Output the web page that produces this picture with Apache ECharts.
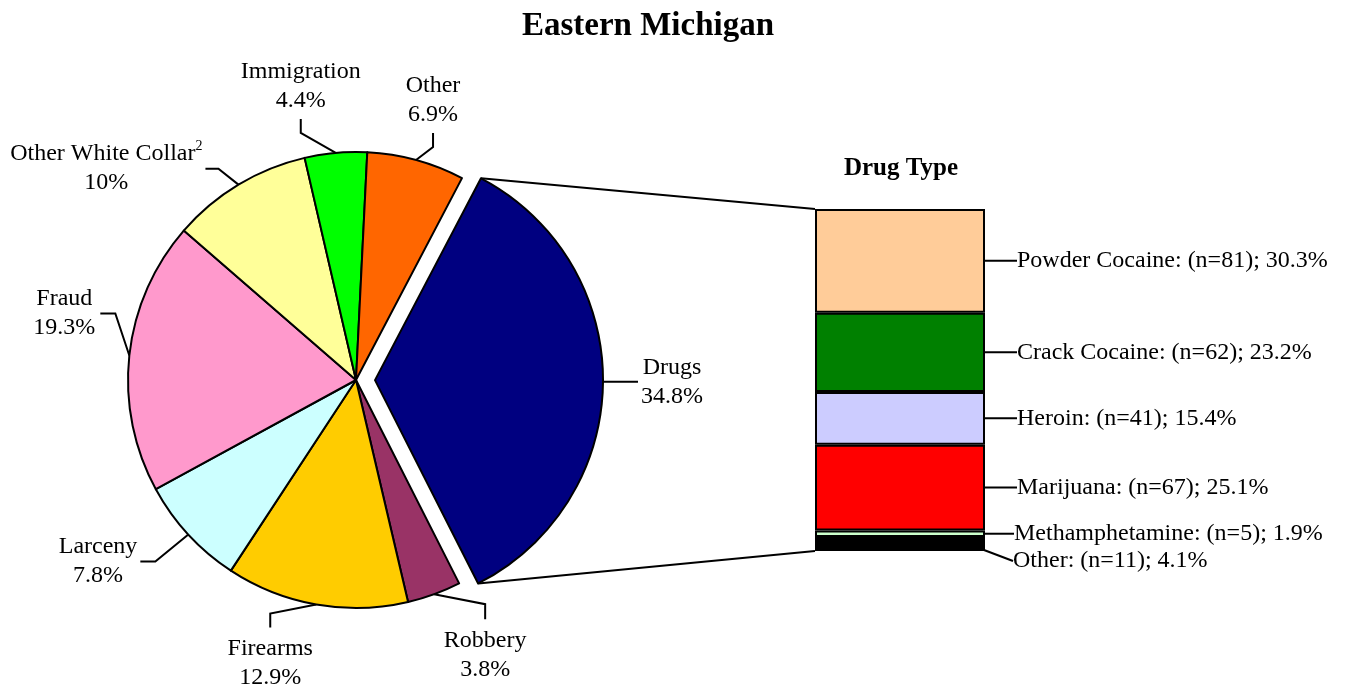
<!DOCTYPE html>
<html><head><meta charset="utf-8">
<script src="https://cdn.jsdelivr.net/npm/echarts@6/dist/echarts.min.js"></script>
<style>html,body{margin:0;padding:0;background:#fff}#c{width:1345px;height:690px}</style>
</head><body><div id="c"></div>
<script>
// ---------- data ----------
const offenseNames = ['Drugs','Robbery','Firearms','Larceny','Fraud','Other White Collar','Immigration','Other'];
const offensePcts  = [34.8, 3.8, 12.9, 7.8, 19.3, 10, 4.4, 6.9];

const drugNames  = ['Other','Methamphetamine','Marijuana','Heroin','Crack Cocaine','Powder Cocaine'];
const drugCounts = [11, 5, 67, 41, 62, 81];
const drugPcts   = [4.1, 1.9, 25.1, 15.4, 23.2, 30.3];

// ---------- style ----------
const offenseColors = ['#000080','#993366','#FFCC00','#CCFFFF','#FF99CC','#FFFF99','#00FF00','#FF6600'];
const drugColors = ['#000000','#CCFFCC','#FF0000','#CCCCFF','#008000','#FFCC99'];
const FONT = 'Liberation Serif';
const FS = 24, LH = 29;
const PIE = {cx: 356, cy: 380, r: 228, start: 62.3, offset: 19};
const EXPLODED = 0; // index of the pulled-out slice
// label line geometry: bend offset from slice edge, then leg offset; side of label
const pieLabelGeom = [
  {bend:[0,0],    leg:[35,0],  side:'right', gap:3},
  {bend:[51,10],  leg:[0,15],  side:'below', gap:7},
  {bend:[-46,9],  leg:[0,14],  side:'below', gap:7},
  {bend:[-33,27], leg:[-15,0], side:'left',  gap:3},
  {bend:[-14,-42],leg:[-15,0], side:'left',  gap:5},
  {bend:[-20,-16],leg:[-13,0], side:'left',  gap:3},
  {bend:[-35,-20],leg:[0,-14], side:'above', gap:4},
  {bend:[17,-13], leg:[0,-14], side:'above', gap:4}
];

// slice angles (screen radians, clockwise from startAngle)
const total = offensePcts.reduce((a,b)=>a+b,0);
const angles = [];
{
  let cum = 0;
  offensePcts.forEach(v => {
    const a0 = (-PIE.start + cum/total*360) * Math.PI/180;
    cum += v;
    const a1 = (-PIE.start + cum/total*360) * Math.PI/180;
    angles.push({a0, a1, mid:(a0+a1)/2});
  });
}
const exMid = angles[EXPLODED].mid;
const exCenter = [PIE.cx + PIE.offset*Math.cos(exMid), PIE.cy + PIE.offset*Math.sin(exMid)];

const chart = echarts.init(document.getElementById('c'), null, {renderer:'canvas'});

const HIDDEN = {itemStyle:{color:'rgba(0,0,0,0)', borderWidth:0}, label:{show:false}, labelLine:{show:false}};
function pieData(visibleFn){
  return offenseNames.map((n,i)=> visibleFn(i)
    ? {name:n, value:offensePcts[i], itemStyle:{color:offenseColors[i]}}
    : Object.assign({name:n, value:offensePcts[i]}, HIDDEN));
}

function makeLabelLayout(center){
  return function(params){
    const i = params.dataIndex;
    const g = pieLabelGeom[i];
    const m = angles[i].mid;
    const p0 = [center[0] + PIE.r*Math.cos(m), center[1] + PIE.r*Math.sin(m)];
    const p1 = [p0[0]+g.bend[0], p0[1]+g.bend[1]];
    const p2 = [p1[0]+g.leg[0], p1[1]+g.leg[1]];
    const w = params.labelRect.width, h = params.labelRect.height;
    let x = p2[0], y = p2[1];
    if (g.side==='right') x = p2[0] + g.gap + w/2;
    if (g.side==='left')  x = p2[0] - g.gap - w/2;
    if (g.side==='below') y = p2[1] + g.gap + h/2;
    if (g.side==='above') y = p2[1] - g.gap - h/2;
    return {x, y, align:'center', verticalAlign:'middle', labelLinePoints:[p0,p1,p2]};
  };
}

const pieLabel = {show:true, fontFamily:FONT, fontSize:FS, lineHeight:LH, color:'#000', align:'center',
  formatter: p => p.name==='Other White Collar'
    ? '{n|Other White Collar}{s|2}\n{n|' + p.value + '%}'
    : p.name + '\n' + p.value + '%',
  rich:{
    n:{fontFamily:FONT, fontSize:FS, lineHeight:LH, color:'#000'},
    s:{fontFamily:FONT, fontSize:14, lineHeight:LH, verticalAlign:'top', color:'#000', padding:[0,0,12,0]}
  }};

function pieSeries(center, visibleFn){
  return {
    type:'pie', center:center, radius:PIE.r, startAngle:PIE.start, clockwise:true,
    avoidLabelOverlap:false, animation:false, silent:true,
    data: pieData(visibleFn),
    itemStyle:{borderColor:'#000', borderWidth:2},
    label: pieLabel,
    labelLine:{show:true, lineStyle:{color:'#000', width:2}},
    labelLayout: makeLabelLayout(center),
    emphasis:{disabled:true}
  };
}

const barSeries = drugNames.map((n,i)=>({
  type:'bar', name:n, stack:'d', xAxisIndex:0, yAxisIndex:0,
  barWidth:'100%', data:[drugPcts[i]],
  itemStyle:{color:drugColors[i], borderColor:'#000', borderWidth:2},
  label:{show:true, position:'right', distance:0,
    formatter: ()=> n + ': (n=' + drugCounts[i] + '); ' + drugPcts[i] + '%',
    fontFamily:FONT, fontSize:FS, color:'#000'},
  labelLine:{show:true, lineStyle:{color:'#000', width:2}},
  labelLayout: function(params){
    const r = params.rect;
    const right = r.x + r.width, my = r.y + r.height/2;
    if (n==='Other') {
      return {x: right+28, y: my+17, align:'left', verticalAlign:'middle',
        labelLinePoints:[[right,my],[right+18,my+17],[right+25,my+17]]};
    }
    if (n==='Methamphetamine') {
      return {x: right+29, y: my, align:'left', verticalAlign:'middle',
        labelLinePoints:[[right,my],[right+12,my],[right+25,my-0.5]]};
    }
    return {x: right+32, y: my, align:'left', verticalAlign:'middle',
      labelLinePoints:[[right,my],[right+15,my],[right+30,my]]};
  },
  animation:false
}));

const option = {
  animation:false,
  backgroundColor:'#fff',
  title:[
    {text:'Eastern Michigan', left:648, top:10, textAlign:'center', padding:0,
     textStyle:{fontFamily:FONT, fontWeight:'bold', fontSize:33, color:'#000'}},
    {text:'Drug Type', left:901, top:156, textAlign:'center', padding:0,
     textStyle:{fontFamily:FONT, fontWeight:'bold', fontSize:25, color:'#000'}}
  ],
  grid:{left:815, width:170, top:209, height:342},
  xAxis:{type:'category', data:['Drugs'], show:false},
  yAxis:{type:'value', min:0, max:100, show:false},
  series:[
    pieSeries([PIE.cx, PIE.cy], i => i !== EXPLODED),
    pieSeries(exCenter, i => i === EXPLODED)
  ].concat(barSeries)
};
chart.setOption(option);

// connector lines from exploded slice to stacked bar
(function(){
  const model = chart.getModel();
  const topSeries = model.getSeriesByIndex(1 + drugNames.length); // Powder Cocaine (top)
  const botSeries = model.getSeriesByIndex(2);                     // Other (bottom)
  const lt = topSeries.getData().getItemLayout(0);
  const lb = botSeries.getData().getItemLayout(0);
  const barTop = Math.min(lt.y, lt.y + lt.height);
  const barBot = Math.max(lb.y, lb.y + lb.height);
  const barLeft = Math.min(lt.x, lt.x + lt.width);
  const g = angles[EXPLODED];
  const t = [exCenter[0] + PIE.r*Math.cos(g.a0), exCenter[1] + PIE.r*Math.sin(g.a0)];
  const b = [exCenter[0] + PIE.r*Math.cos(g.a1), exCenter[1] + PIE.r*Math.sin(g.a1)];
  chart.setOption({graphic:[
    {type:'line', shape:{x1:t[0], y1:t[1], x2:barLeft, y2:barTop}, style:{stroke:'#000', lineWidth:2}, silent:true},
    {type:'line', shape:{x1:b[0], y1:b[1], x2:barLeft, y2:barBot}, style:{stroke:'#000', lineWidth:2}, silent:true}
  ]});
})();
</script>
</body></html>
